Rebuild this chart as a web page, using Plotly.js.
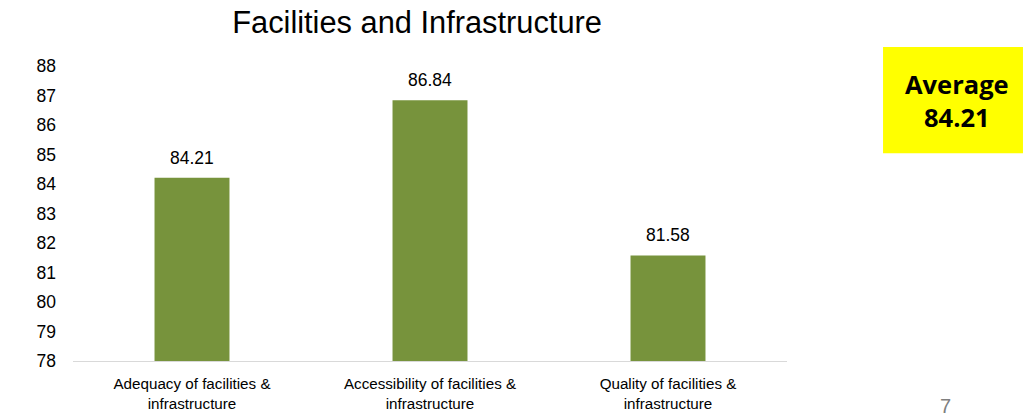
<!DOCTYPE html>
<html>
<head>
<meta charset="utf-8">
<script src="https://cdn.plot.ly/plotly-3.0.1.min.js"></script>
<style>html,body{margin:0;padding:0;background:#fff;}#chart{width:1023px;height:418px;}</style>
</head>
<body>
<div id="chart"></div>
<script>
var categories = ["Adequacy of facilities &<br>infrastructure", "Accessibility of facilities &<br>infrastructure", "Quality of facilities &<br>infrastructure"];
var scores = [84.21, 86.84, 81.58];
var yTicks = [78, 79, 80, 81, 82, 83, 84, 85, 86, 87, 88];
var averageValue = 84.21;
var pageNumber = "7";

var trace = {
  type: "bar",
  x: categories,
  y: scores,
  marker: {color: "#77933C"},
  hoverinfo: "none"
};

var labelAnnotations = categories.map(function(c, i){
  return {xref: "x", yref: "y", x: c, y: scores[i], xanchor: "center", yanchor: "middle", yshift: 20,
    showarrow: false, text: scores[i].toFixed(2),
    font: {family: "Liberation Sans, Arial, sans-serif", size: 17.5, color: "#000"}};
});

var layout = {
  width: 1023, height: 418,
  margin: {l: 73, r: 236, t: 66, b: 57},
  paper_bgcolor: "#fff", plot_bgcolor: "#fff",
  bargap: 0.685,
  font: {family: "Liberation Sans, Arial, sans-serif", size: 16, color: "#000"},
  title: {text: "Facilities and Infrastructure", font: {size: 30.8, color: "#000"}, x: 0.4077, xanchor: "center", y: 0.948, yanchor: "middle"},
  xaxis: {showgrid: false, zeroline: false, showline: true, linecolor: "#d9d9d9", linewidth: 1, ticks: "",
          tickfont: {family: "Liberation Sans, Arial, sans-serif", size: 15.2}, ticklabelstandoff: 9, fixedrange: true},
  yaxis: {range: [78, 88], tickvals: yTicks, showgrid: false, zeroline: false, showline: false, ticks: "", tickfont: {size: 17.5}, ticklabelstandoff: 16, fixedrange: true},
  showlegend: false,
  shapes: [{type: "rect", xref: "paper", yref: "paper", x0: 1.1345, x1: 1.3305, y0: 0.7046, y1: 1.0645, fillcolor: "#FFFF00", line: {width: 0}}],
  annotations: labelAnnotations.concat([
    {xref: "paper", yref: "paper", x: 1.2381, y: 0.8829, xanchor: "center", yanchor: "middle", showarrow: false,
     text: "<b>Average<br>" + averageValue.toFixed(2) + "</b>", font: {family: "Open Sans, sans-serif", size: 25.5, color: "#000"}},
    {xref: "paper", yref: "paper", x: 1.2213, y: -0.151, xanchor: "center", yanchor: "middle", showarrow: false,
     text: pageNumber, font: {family: "Liberation Sans, Arial, sans-serif", size: 20, color: "#7f7f7f"}}
  ])
};

Plotly.newPlot("chart", [trace], layout, {displayModeBar: false, staticPlot: true});
</script>
</body>
</html>
